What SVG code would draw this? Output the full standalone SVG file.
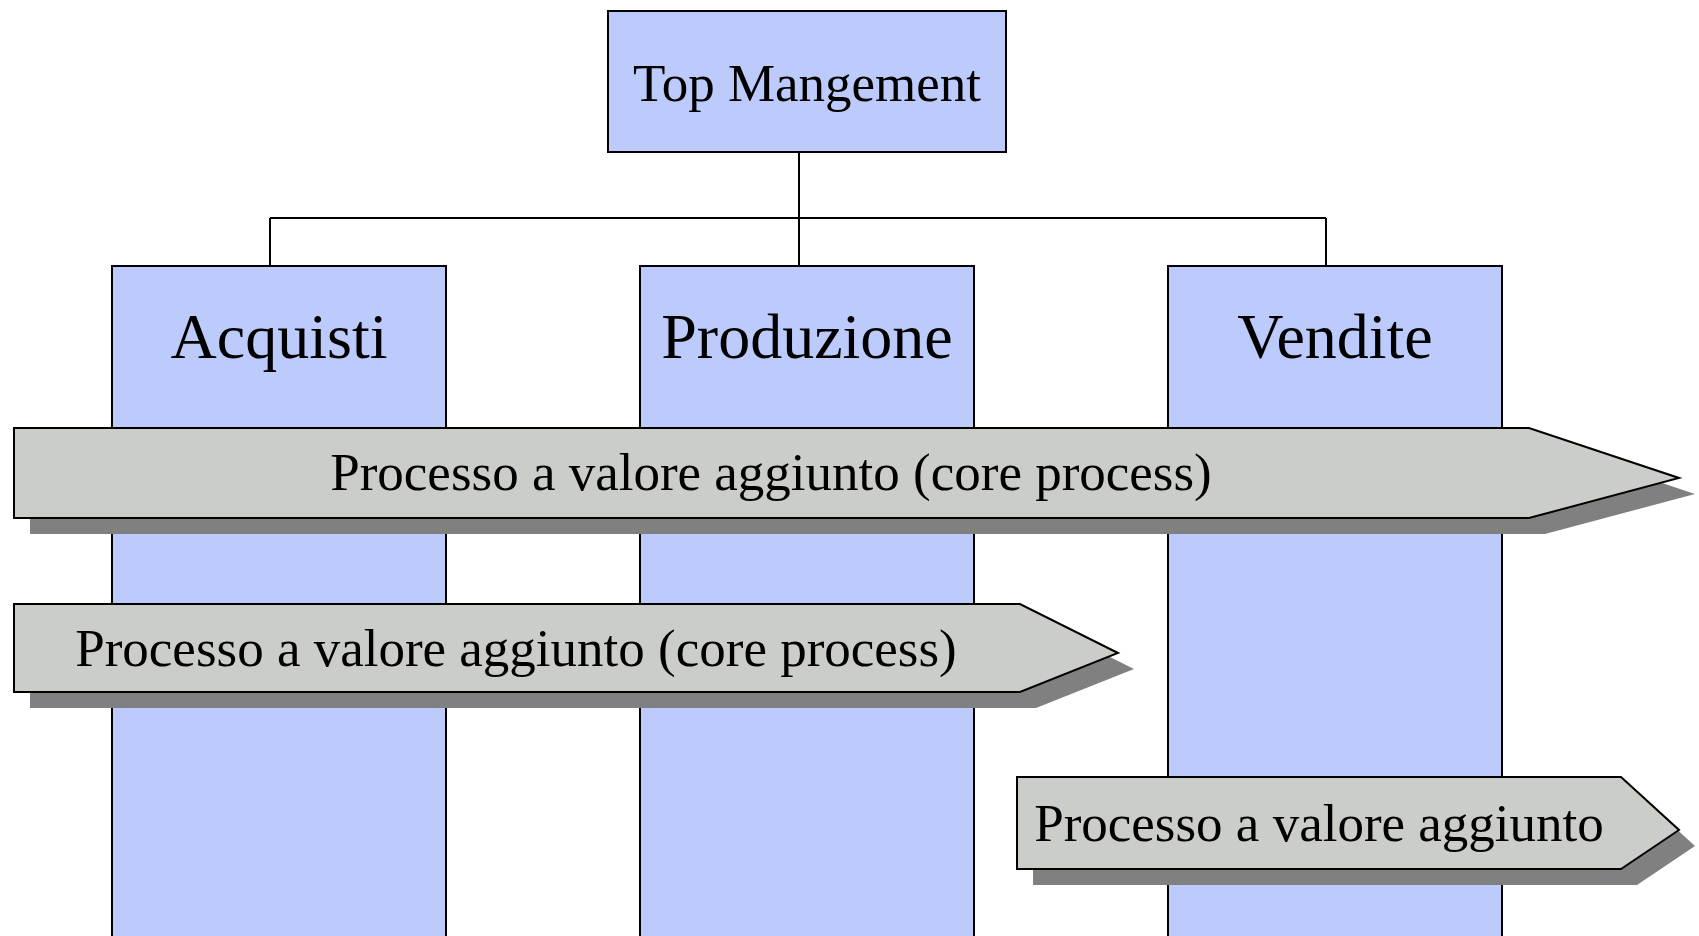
<svg xmlns="http://www.w3.org/2000/svg" width="1699" height="936" viewBox="0 0 1699 936">
  <style>
    .box { fill: #bccbfb; stroke: #000; stroke-width: 2; }
    .arrow { fill: #cbcec8; stroke: #000; stroke-width: 2; stroke-linejoin: miter; }
    .shadow { fill: #808080; }
    .wire { fill: none; stroke: #000; stroke-width: 2; }
    .t { font-family: "Liberation Serif", "Times New Roman", serif; fill: #000; text-anchor: middle; }
    .t53 { font-size: 53px; }
    .t64 { font-size: 64px; }
  </style>
  <rect width="1699" height="936" fill="#ffffff"/>

  <!-- org-chart connectors -->
  <g id="connectors">
    <path class="wire" d="M799,152 V266"/>
    <path class="wire" d="M270,218 H1326"/>
    <path class="wire" d="M270,218 V266"/>
    <path class="wire" d="M1326,218 V266"/>
  </g>

  <g id="top-management">
    <rect class="box" x="608" y="11" width="398" height="141"/>
    <text class="t t53" x="807" y="101">Top Mangement</text>
  </g>

  <g id="acquisti">
    <rect class="box" x="112" y="266" width="334" height="680"/>
    <text class="t t64" x="279" y="358">Acquisti</text>
  </g>

  <g id="produzione">
    <rect class="box" x="640" y="266" width="334" height="680"/>
    <text class="t t64" x="807" y="358">Produzione</text>
  </g>

  <g id="vendite">
    <rect class="box" x="1168" y="266" width="334" height="680"/>
    <text class="t t64" x="1335" y="358">Vendite</text>
  </g>

  <!-- process arrows with drop shadow -->
  <g id="process-core-full">
    <polygon class="shadow" points="30,444 1545,444 1695,494 1545,534 30,534"/>
    <polygon class="arrow" points="14,428 1529,428 1679,478 1529,518 14,518"/>
    <text class="t t53" x="771" y="490">Processo a valore aggiunto (core process)</text>
  </g>

  <g id="process-core-partial">
    <polygon class="shadow" points="30,620 1036,620 1134,669 1036,708 30,708"/>
    <polygon class="arrow" points="14,604 1020,604 1118,653 1020,692 14,692"/>
    <text class="t t53" x="516" y="666">Processo a valore aggiunto (core process)</text>
  </g>

  <g id="process-vendite">
    <polygon class="shadow" points="1033,793 1637,793 1695,846 1637,885 1033,885"/>
    <polygon class="arrow" points="1017,777 1621,777 1679,830 1621,869 1017,869"/>
    <text class="t t53" x="1319" y="841">Processo a valore aggiunto</text>
  </g>
</svg>
